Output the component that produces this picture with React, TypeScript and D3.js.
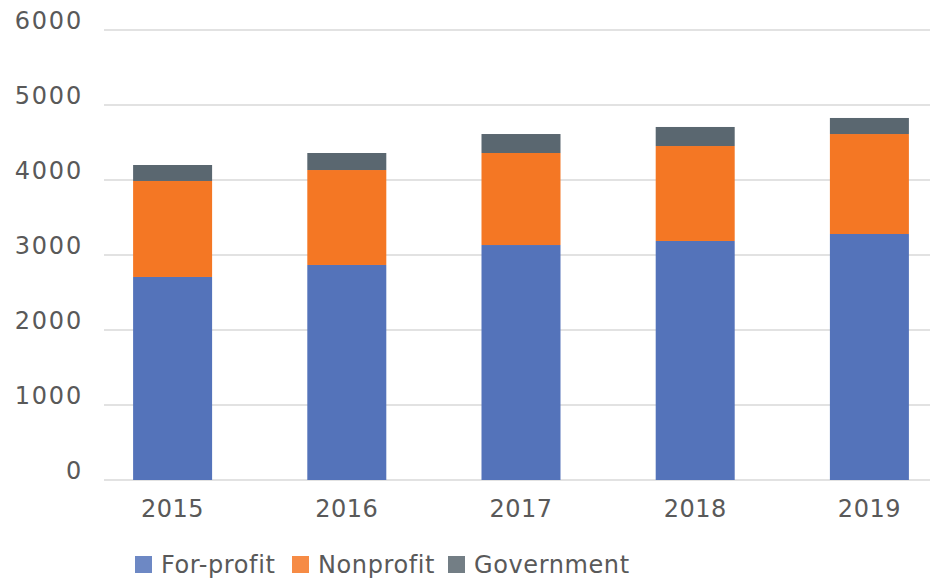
import React from "react";
import * as d3 from "d3";

const years = ["2015", "2016", "2017", "2018", "2019"];
const forProfit = [2707, 2867, 3133, 3187, 3280];
const nonprofit = [1280, 1266, 1227, 1266, 1333];
const government = [213, 227, 253, 254, 214];
const seriesNames = ["For-profit", "Nonprofit", "Government"];
const seriesColors = ["#5473BA", "#F47724", "#5A6770"];
const yTicks = [0, 1000, 2000, 3000, 4000, 5000, 6000];

const W = 930;
const H = 579;

export default function App() {
  const y = d3.scaleLinear().domain([0, 6000]).range([480, 30]);
  const x = d3
    .scaleBand()
    .domain(years)
    .range([85.5, 956.5])
    .paddingInner(0.5465)
    .paddingOuter(0.27325);

  const rows = years.map((yr, i) => ({
    year: yr,
    "For-profit": forProfit[i],
    Nonprofit: nonprofit[i],
    Government: government[i],
  }));
  const stack = d3.stack<any>().keys(seriesNames)(rows);

  const font = "'DejaVu Sans', sans-serif";
  const textColor = "#595959";

  const legendX = [135, 292, 448];

  return (
    <svg width={W} height={H} style={{ position: "absolute", left: 0, top: 0, background: "#fff" }}>
      {yTicks.map((t) => (
        <g key={t}>
          <line x1={104} x2={930} y1={y(t)} y2={y(t)} stroke="#d9d9d9" strokeWidth={1.5} />
          <text
            x={83}
            y={y(t) - 1}
            textAnchor="end"
            fontFamily={font}
            fontSize={24}
            letterSpacing={1.8}
            fill={textColor}
          >
            {t}
          </text>
        </g>
      ))}
      {stack.map((s, si) => (
        <g key={s.key} fill={seriesColors[si]}>
          {s.map((d, i) => (
            <rect
              key={i}
              x={x(years[i])}
              width={x.bandwidth()}
              y={y(d[1])}
              height={y(d[0]) - y(d[1])}
            />
          ))}
        </g>
      ))}
      {years.map((yr) => (
        <text
          key={yr}
          x={(x(yr) as number) + x.bandwidth() / 2}
          y={517}
          textAnchor="middle"
          fontFamily={font}
          fontSize={24}
          letterSpacing={0.5}
          fill={textColor}
        >
          {yr}
        </text>
      ))}
      {seriesNames.map((n, i) => (
        <g key={n}>
          <rect x={legendX[i]} y={556} width={17} height={17} fill={seriesColors[i]} opacity={0.85} />
          <text
            x={legendX[i] + 26}
            y={573}
            fontFamily={font}
            fontSize={24}
            letterSpacing={0.6}
            fill={textColor}
          >
            {n}
          </text>
        </g>
      ))}
    </svg>
  );
}
